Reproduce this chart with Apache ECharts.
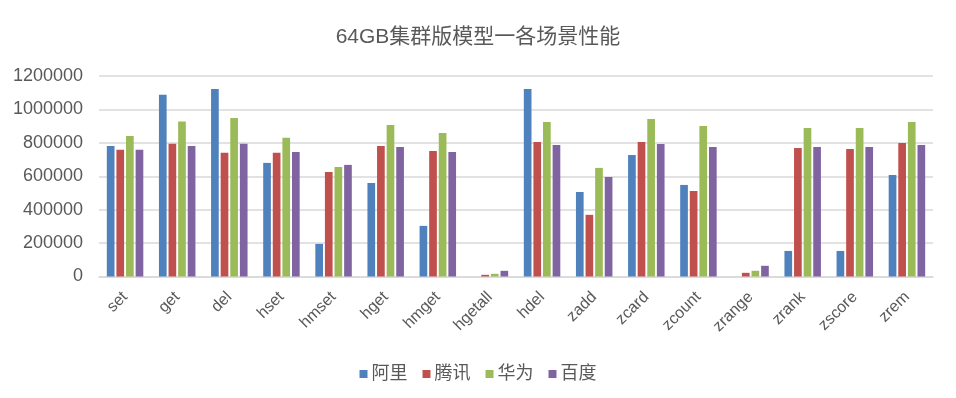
<!DOCTYPE html>
<html>
<head>
<meta charset="utf-8">
<script src="https://cdn.jsdelivr.net/npm/echarts@6/dist/echarts.min.js"></script>
<style>html,body{margin:0;padding:0;background:#fff}#c{width:956px;height:398px}</style>
</head>
<body>
<div id="c"></div>
<script>
const categories = ['set','get','del','hset','hmset','hget','hmget','hgetall','hdel','zadd','zcard','zcount','zrange','zrank','zscore','zrem'];
const seriesNames = ['阿里','腾讯','华为','百度'];
const ali     = [781000,1088000,1122000,680000,195000,560000,303000,0,1122000,506000,727000,548000,0,153000,153000,608000];
const tencent = [759000,795000,741000,741000,626000,781000,751000,10000,805000,369000,805000,512000,22000,769000,763000,799000];
const huawei  = [841000,927000,949000,831000,656000,907000,859000,16000,925000,650000,943000,901000,34000,889000,889000,925000];
const baidu   = [759000,781000,795000,745000,668000,775000,745000,34000,787000,596000,793000,775000,64000,775000,775000,787000];
const yTicks = [0,200000,400000,600000,800000,1000000,1200000];

const colors = ['#4f81bd','#c0504d','#9bbb59','#8064a2'];
const FONT = '"Liberation Sans", Arial, "Noto Sans CJK SC", sans-serif';
const data = [ali, tencent, huawei, baidu];

const chart = echarts.init(document.getElementById('c'));
chart.setOption({
  animation: false,
  color: colors,
  textStyle: { fontFamily: FONT },
  title: {
    text: '64GB集群版模型一各场景性能',
    left: 'center', top: 22,
    textStyle: { fontFamily: FONT, fontSize: 21, fontWeight: 'normal', color: '#595959' }
  },
  legend: {
    data: seriesNames,
    left: 'center', top: 360,
    icon: 'rect', itemWidth: 8, itemHeight: 8, itemGap: 15,
    textStyle: { fontFamily: FONT, fontSize: 18, color: '#595959', padding: [0,0,0,-1] }
  },
  grid: { left: 99, right: 23, top: 76, bottom: 121.5, containLabel: false },
  xAxis: {
    type: 'category',
    data: categories,
    axisLine: { show: true, lineStyle: { color: '#d9d9d9', width: 1.5 } },
    axisTick: { show: false },
    axisLabel: { rotate: 45, fontSize: 16, color: '#595959', margin: 18, fontFamily: FONT, interval: 0 }
  },
  yAxis: {
    type: 'value',
    min: yTicks[0], max: yTicks[yTicks.length-1], interval: 200000,
    axisLine: { show: false },
    axisTick: { show: false },
    splitLine: { lineStyle: { color: '#d9d9d9', width: 1.5 } },
    axisLabel: { fontSize: 18, color: '#595959', margin: 16, fontFamily: FONT, formatter: v => String(v) }
  },
  series: seriesNames.map((n, i) => ({
    name: n, type: 'bar', data: data[i],
    barGap: '25%', barCategoryGap: '30%'
  }))
});
</script>
</body>
</html>
